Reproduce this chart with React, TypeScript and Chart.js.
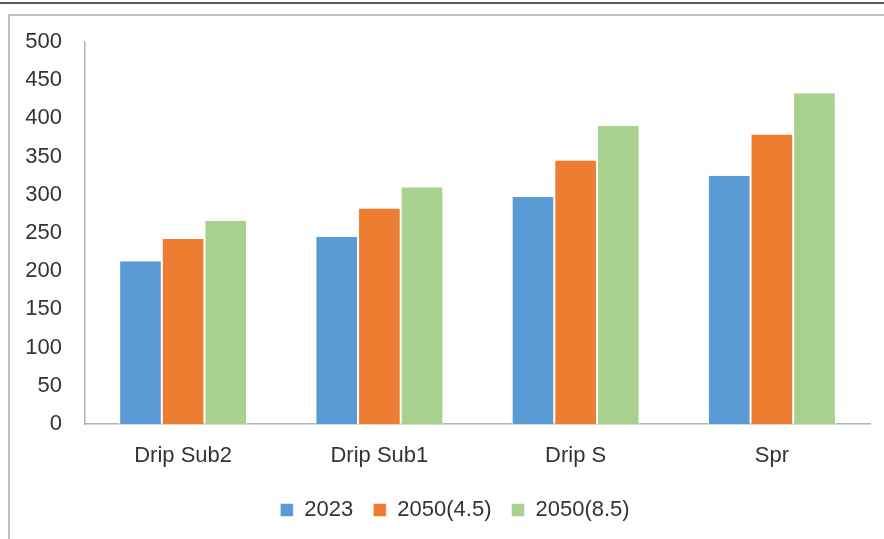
import React, { useEffect, useRef } from "react";
import { Chart, registerables } from "chart.js";

Chart.register(...registerables);

const categories = ["Drip Sub2", "Drip Sub1", "Drip S", "Spr"];
const seriesNames = ["2023", "2050(4.5)", "2050(8.5)"];
const values2023 = [213, 245, 297, 325];
const values2050_45 = [242, 282, 345, 379];
const values2050_85 = [266, 310, 390, 433];
const seriesColors = ["#5B9BD5", "#ED7D31", "#A9D18E"];
const yTickMin = 0;
const yTickMax = 500;
const yTickStep = 50;

const FONT = "'Liberation Sans', Arial, sans-serif";
const TEXT = "#333333";

const legendShift = {
  id: "legendShift",
  afterLayout(chart: any) {
    const l = chart.legend;
    if (l) {
      l.left += 10;
      l.right += 10;
    }
  },
};

export default function App() {
  const canvasRef = useRef<HTMLCanvasElement | null>(null);

  useEffect(() => {
    const canvas = canvasRef.current;
    if (!canvas) return;
    const allValues = [values2023, values2050_45, values2050_85];
    const chart = new Chart(canvas, {
      type: "bar",
      data: {
        labels: categories,
        datasets: seriesNames.map((name, i) => ({
          label: name,
          data: allValues[i],
          backgroundColor: seriesColors[i],
          borderColor: "#ffffff",
          borderWidth: { left: 1, right: 1, top: 0, bottom: 0 },
          borderSkipped: false,
          categoryPercentage: 0.652,
          barPercentage: 1,
        })),
      },
      options: {
        responsive: false,
        animation: false,
        devicePixelRatio: 1,
        layout: { padding: { left: 20, right: 14, top: 42, bottom: 8 } },
        plugins: {
          tooltip: { enabled: false },
          title: { display: false },
          legend: {
            display: true,
            position: "bottom",
            labels: {
              boxWidth: 13,
              boxHeight: 13,
              padding: 20,
              color: TEXT,
              font: { family: FONT, size: 22 },
            },
          },
        },
        scales: {
          x: {
            grid: { display: false, drawTicks: false },
            border: { display: true, color: "#b3b3b3", width: 1.5 },
            ticks: { color: TEXT, font: { family: FONT, size: 22 }, padding: 19, maxRotation: 0 },
            afterFit: (s: any) => {
              s.height = 55;
            },
          },
          y: {
            min: yTickMin,
            max: yTickMax,
            grid: { display: false, drawTicks: false },
            border: { display: true, color: "#b3b3b3", width: 1.5 },
            ticks: {
              stepSize: yTickStep,
              color: TEXT,
              font: { family: FONT, size: 22 },
              padding: 23,
            },
            afterFit: (s: any) => {
              s.width = 65;
            },
          },
        },
      },
      plugins: [legendShift],
    });
    return () => chart.destroy();
  }, []);

  return (
    <div
      style={{
        position: "absolute",
        left: 0,
        top: 0,
        width: 884,
        height: 539,
        background: "#ffffff",
        overflow: "hidden",
      }}
    >
      <div style={{ position: "absolute", left: 0, top: 2, width: 884, height: 2, background: "#5a5a5a" }} />
      <div style={{ position: "absolute", left: 9, top: 14, width: 875, height: 2, background: "#bdbdbd" }} />
      <div style={{ position: "absolute", left: 8, top: 14, width: 2, height: 525, background: "#bdbdbd" }} />
      <canvas
        ref={canvasRef}
        width={884}
        height={539}
        style={{ position: "absolute", left: 0, top: 0, width: 884, height: 539 }}
      />
    </div>
  );
}
